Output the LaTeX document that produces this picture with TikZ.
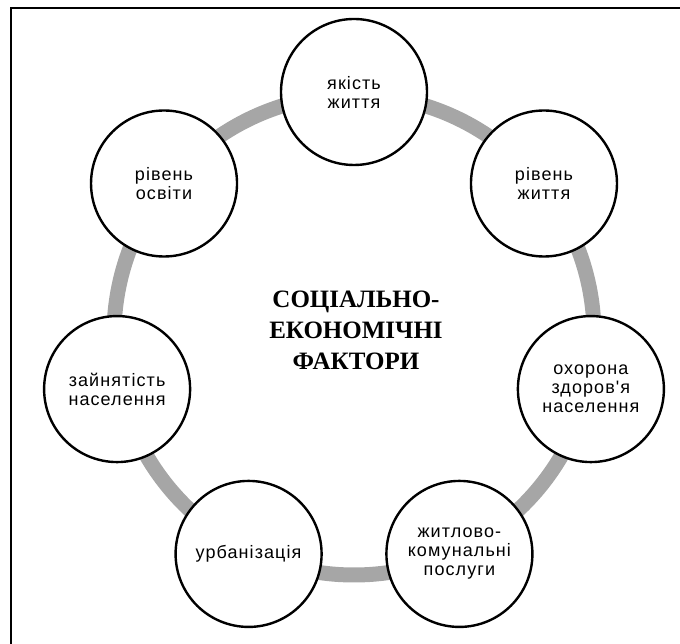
\documentclass[tikz,border=0pt]{standalone}
\usepackage{fontspec}
\newfontfamily\labelfont{Liberation Sans}[LetterSpace=6]
\newfontfamily\titlefont{Liberation Serif}
\definecolor{ringgrey}{HTML}{A6A6A6}

\begin{document}
\begin{tikzpicture}[x=1pt, y=1pt,
	factor/.style={circle, draw=black, line width=2.4pt, fill=white, minimum size=146pt, inner sep=0pt, align=center, font=\labelfont\fontsize{18}{19}\selectfont},
	heading/.style={align=center, font=\titlefont\bfseries\fontsize{25}{31}\selectfont}]
	\useasboundingbox (0, 0) rectangle (680, 644);
	\draw[line width=1.8pt] (11, 0) -- (11, 636) -- (680, 636);

	\coordinate (centre) at (354, 309);
	\draw[ringgrey, line width=15pt] (centre) circle (240pt);

	\node[heading] (title) at (356, 314) {СОЦІАЛЬНО-\\ЕКОНОМІЧНІ\\ФАКТОРИ};

	\node[factor] (quality) at ([shift={(90:243pt)}]centre) {якість\\життя};
	\node[factor] (living) at ([shift={(38.57:243pt)}]centre) {рівень\\життя};
	\node[factor] (health) at ([shift={(-12.86:243pt)}]centre) {охорона\\здоров'я\\населення};
	\node[factor] (housing) at ([shift={(-64.29:243pt)}]centre) {житлово-\\комунальні\\послуги};
	\node[factor] (urban) at ([shift={(-115.71:243pt)}]centre) {урбанізація};
	\node[factor] (jobs) at ([shift={(-167.14:243pt)}]centre) {зайнятість\\населення};
	\node[factor] (school) at ([shift={(141.43:243pt)}]centre) {рівень\\освіти};
\end{tikzpicture}
\end{document}
